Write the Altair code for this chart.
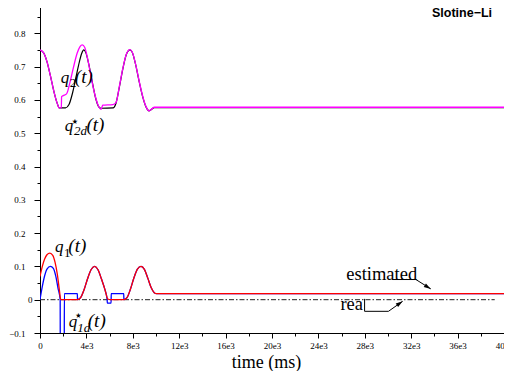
import altair as alt
import pandas as pd

# ---------------- data ----------------
# q2d*(t) desired (black)
q2d_t = [0, 300, 600, 900, 1200, 1500, 1650, 2200, 2500, 2800, 3100, 3400, 3600, 3770,
         3950, 4200, 4500, 4800, 5050, 5250, 6300, 6550, 6850, 7150, 7450, 7750,
         7950, 8250, 8550, 8850, 9150, 9400, 9850, 40000]
q2d_v = [0.750, 0.742, 0.715, 0.672, 0.625, 0.588, 0.576, 0.576, 0.586, 0.620, 0.668, 0.715, 0.740, 0.750,
         0.742, 0.708, 0.655, 0.605, 0.580, 0.575, 0.576, 0.590, 0.640, 0.695, 0.737, 0.750,
         0.743, 0.705, 0.655, 0.610, 0.578, 0.567, 0.577, 0.577]

# q2(t) actual (magenta)
q2_t = [0, 300, 600, 900, 1200, 1500, 1650, 1840, 1860, 2000, 2290, 2600, 2900, 3200, 3450,
        3650, 3850, 4100, 4400, 4700, 5000, 5285, 5400, 6280, 6550, 6850, 7150, 7450, 7750,
        7950, 8250, 8550, 8850, 9150, 9400, 9850, 40000]
q2_v = [0.750, 0.742, 0.715, 0.672, 0.625, 0.588, 0.576, 0.577, 0.610, 0.613, 0.618, 0.655, 0.700, 0.740, 0.760,
        0.765, 0.758, 0.725, 0.670, 0.620, 0.585, 0.572, 0.584, 0.586, 0.592, 0.642, 0.696, 0.738, 0.751,
        0.744, 0.706, 0.656, 0.611, 0.579, 0.567, 0.578, 0.578]

# q1(t) actual (red)
q1_t = [0, 200, 400, 600, 850, 1100, 1300, 1500, 1650, 1800, 3250, 3500, 3800, 4100, 4400,
        4710, 5000, 5300, 5600, 5850, 6050, 7250, 7500, 7800, 8100, 8400, 8710, 9000, 9300,
        9600, 9850, 10050, 40000]
q1_v = [0.070, 0.100, 0.122, 0.135, 0.140, 0.133, 0.112, 0.075, 0.035, 0.000, 0.000, 0.006, 0.030, 0.063, 0.090,
        0.100, 0.090, 0.062, 0.030, 0.002, 0.000, 0.000, 0.006, 0.032, 0.066, 0.092, 0.100, 0.091, 0.064,
        0.035, 0.021, 0.018, 0.018]

# q1d*(t) desired (blue)
q1d_t = [0, 200, 400, 600, 900, 1150, 1350, 1550, 1740, 1750, 2090, 2100, 3220, 3230, 3500,
         3800, 4100, 4400, 4710, 5000, 5300, 5600, 5790, 5800, 6130, 6140, 7220, 7230, 7500,
         7800, 8100, 8400, 8710, 9000, 9300, 9600, 9850, 10050, 40000]
q1d_v = [0.000, 0.040, 0.072, 0.092, 0.100, 0.094, 0.072, 0.035, 0.000, -0.200, -0.200, 0.018, 0.018, 0.000, 0.006,
         0.030, 0.063, 0.090, 0.100, 0.090, 0.062, 0.030, 0.000, -0.010, -0.010, 0.018, 0.018, 0.000, 0.006,
         0.032, 0.066, 0.092, 0.100, 0.091, 0.064, 0.035, 0.021, 0.018, 0.018]

# "real" zero reference line
real_t = [0, 39200]
real_v = [0.0, 0.0]

# axis ticks
x_ticks = [0, 2000, 4000, 6000, 8000, 10000, 12000, 14000, 16000, 18000, 20000, 22000,
           24000, 26000, 28000, 30000, 32000, 34000, 36000, 38000, 40000]
y_ticks = [-0.1, -0.05, 0.0, 0.05, 0.1, 0.15, 0.2, 0.25, 0.3, 0.35, 0.4, 0.45,
           0.5, 0.55, 0.6, 0.65, 0.7, 0.75, 0.8, 0.85, 0.9]

# math labels (pieces): text, t, v, size, italic
lab_text = ["q", "2", "(t)",
            "q", "2d", "(t)",
            "q", "1", "(t)",
            "q", "1d", "(t)"]
lab_t = [1780, 2560, 3000,
         2141, 2930, 4010,
         1285, 2060, 2440,
         2484, 3210, 4120]
lab_v = [0.651, 0.639, 0.651,
         0.506, 0.494, 0.506,
         0.142, 0.127, 0.142,
         -0.081, -0.096, -0.081]
lab_size = [17, 13, 19,
            17, 13, 19,
            17, 13, 19,
            17, 13, 19]
lab_italic = [True, False, True,
              True, True, True,
              True, False, True,
              True, True, True]
star_t = [3000, 3300]
star_v = [0.535, -0.049]

# annotations
ann_text = ["estimated", "rea"]
ann_t = [26400, 25900]
ann_v = [0.0606, -0.0319]

arrow_id = ["e", "e", "e", "r", "r", "r", "r"]
arrow_t = [30406, 32402, 33687, 27982, 27982, 30038, 31263]
arrow_v = [0.0606, 0.0606, 0.0325, 0.0024, -0.0349, -0.0349, -0.0048]
head_t = [33687, 31263]
head_v = [0.0325, -0.0048]
head_angle = [32, 325]

title_text = "Slotine−Li"
title_t = 38972
title_v = 0.86

# ---------------- chart ----------------
xs = alt.Scale(domain=[0, 40000], nice=False, zero=False)
ys = alt.Scale(domain=[-0.1, 0.9], nice=False, zero=False)

x_axis = alt.Axis(
    values=x_ticks,
    labelExpr="datum.value % 4000 == 0 ? (datum.value == 0 ? '0' : (datum.value / 1000) + 'e3') : ''",
    tickSize={"condition": {"test": "datum.value % 4000 == 0", "value": 5}, "value": 3},
    labelPadding=3, labelFlush=False, labelOverlap=False, grid=False,
    title="time (ms)", titleFont="Liberation Serif", titleFontSize=18, titleFontWeight="normal",
    titleColor="black", titleX=226, titleY=34, titleBaseline="alphabetic",
)
y_axis = alt.Axis(
    values=y_ticks,
    labelExpr="abs(round(datum.value * 20)) % 2 == 0 ? format(datum.value, '.1~f') : ''",
    tickSize={"condition": {"test": "abs(round(datum.value * 20)) % 2 == 0", "value": 6}, "value": 3},
    labelPadding={"condition": {"test": "datum.value == 0", "value": 2}, "value": 9},
    labelFlush=False, labelOverlap=False, grid=False, title=None,
)

def df(ts, vs):
    return pd.DataFrame({"t": ts, "v": vs})

base_x = alt.X("t:Q", scale=xs, axis=x_axis)
base_y = alt.Y("v:Q", scale=ys, axis=y_axis)

real_line = alt.Chart(df(real_t, real_v)).mark_line(
    color="#222222", strokeWidth=1, strokeDash=[5, 2, 1.5, 2]
).encode(x=base_x, y=base_y)

def curve(ts, vs, color, width=1.3):
    return alt.Chart(df(ts, vs)).mark_line(
        color=color, strokeWidth=width, interpolate="monotone", clip=True
    ).encode(x=base_x, y=base_y)

black = curve(q2d_t, q2d_v, "black", 1.2)
magenta = curve(q2_t, q2_v, "#ff00ff", 1.3)
blue = curve(q1d_t, q1d_v, "#0000ff", 1.3)
red = curve(q1_t, q1_v, "#ff0000", 1.3)

labels = pd.DataFrame({"text": lab_text, "t": lab_t, "v": lab_v, "size": lab_size, "italic": lab_italic})
lab_it = alt.Chart(labels[labels["italic"]]).mark_text(
    font="Liberation Serif", fontStyle="italic", align="left", baseline="alphabetic", color="black"
).encode(x=base_x, y=base_y, text="text:N", size=alt.Size("size:Q", scale=None))
lab_up = alt.Chart(labels[~labels["italic"]]).mark_text(
    font="Liberation Serif", align="left", baseline="alphabetic", color="black"
).encode(x=base_x, y=base_y, text="text:N", size=alt.Size("size:Q", scale=None))
stars = alt.Chart(pd.DataFrame({"t": star_t, "v": star_v, "text": ["⋆", "⋆"]})).mark_text(
    font="DejaVu Sans", fontSize=14, align="center", baseline="middle", color="black"
).encode(x=base_x, y=base_y, text="text:N")

ann = alt.Chart(pd.DataFrame({"text": ann_text, "t": ann_t, "v": ann_v})).mark_text(
    font="Liberation Serif", fontSize=18.5, align="left", baseline="alphabetic", color="black"
).encode(x=base_x, y=base_y, text="text:N")

arrows = alt.Chart(pd.DataFrame({"a": arrow_id, "t": arrow_t, "v": arrow_v,
                                 "o": list(range(len(arrow_t)))})).mark_line(
    color="black", strokeWidth=1
).encode(x=base_x, y=base_y, detail="a:N", order="o:Q")

heads = alt.Chart(pd.DataFrame({"t": head_t, "v": head_v, "ang": head_angle})).mark_point(
    shape="M0,0L-2,-0.6L-2,0.6Z", filled=True, color="black", size=49, opacity=1
).encode(x=base_x, y=base_y, angle=alt.Angle("ang:Q", scale=None))

title = alt.Chart(pd.DataFrame({"text": [title_text], "t": [title_t], "v": [title_v]})).mark_text(
    font="Liberation Sans", fontWeight="bold", fontSize=12.5, align="right", baseline="middle", color="black"
).encode(x=base_x, y=base_y, text="text:N")

chart = alt.layer(
    real_line, black, magenta, blue, red, lab_it, lab_up, stars, ann, arrows, heads, title
).properties(
    width=464, height=333,
    autosize=alt.AutoSizeParams(type="none"),
    padding={"left": 32, "top": -8, "right": 0, "bottom": 38},
).configure_view(
    stroke="black", strokeWidth=1
).configure_axis(
    domainColor="black", domainWidth=1, tickColor="black", tickWidth=1,
    labelFont="Liberation Serif", labelFontSize=9, labelColor="black",
)

chart.save("out.html", embed_options={"renderer": "svg", "actions": False})
